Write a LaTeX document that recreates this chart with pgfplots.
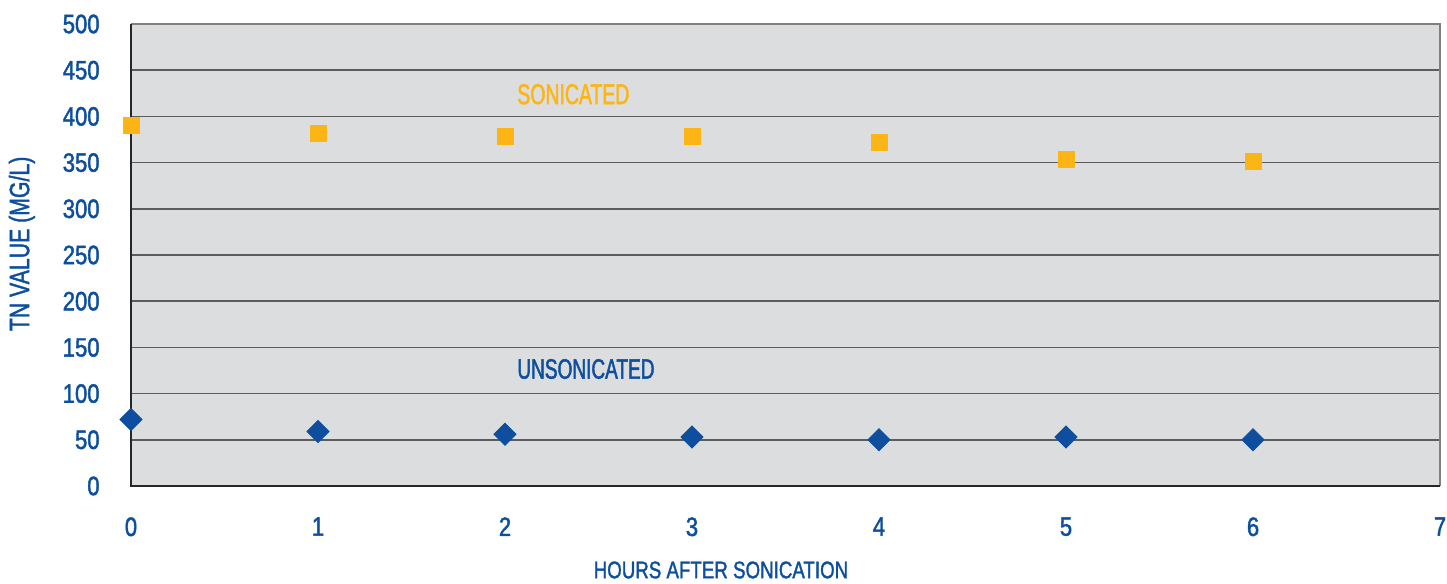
\documentclass[border=0pt]{standalone}
\usepackage{fontspec}
\setmainfont[FakeStretch=0.83,FakeBold=1.6]{Liberation Sans}
\newfontfamily\condA[FakeStretch=0.68,FakeBold=1.6]{Liberation Sans}
\newfontfamily\condX[FakeStretch=0.78,FakeBold=1.4]{Liberation Sans}
\newfontfamily\condY[FakeStretch=0.76,FakeBold=1.4]{Liberation Sans}
\usepackage{pgfplots}
\pgfplotsset{compat=1.18}
\definecolor{tnblue}{HTML}{0D4F9E}
\definecolor{tnorange}{HTML}{FDB515}
\definecolor{plotbg}{HTML}{DCDDDF}
\definecolor{gridc}{HTML}{5C5C5C}
\begin{document}
\begin{tikzpicture}
\useasboundingbox (-65.5pt,-49pt) rectangle (658pt,243pt);
\begin{axis}[
  scale only axis,
  width=654.5pt, height=231pt,
  xmin=0, xmax=7, ymin=0, ymax=500,
  xtick={0,1,2,3,4,5,6,7},
  ytick={0,50,100,150,200,250,300,350,400,450,500},
  major tick length=0pt,
  axis line style={draw=none},
  axis background/.style={fill=plotbg},
  ymajorgrids,
  major grid style={draw=gridc, line width=0.8pt},
  /pgf/number format/assume math mode=true,
  tick label style={font=\fontsize{13.3}{15}\selectfont, text=tnblue, inner sep=0pt},
  yticklabel style={anchor=east, xshift=-15.5pt},
  xticklabel style={anchor=north, yshift=-15.5pt},
  every axis x label/.style={at={(axis description cs:0.4507,-0.1818)}, anchor=center},
  every axis y label/.style={at={(axis description cs:-0.0833,0.524)}, rotate=90, anchor=center},
  xlabel={\condX\fontsize{12}{13}\selectfont\color{tnblue}HOURS AFTER SONICATION},
  ylabel={\condY\fontsize{14}{15}\selectfont\color{tnblue}TN VALUE (MG/L)},
  clip=false,
]
\addplot[only marks, mark=square*, mark size=4pt, color=tnorange] coordinates {
  (0,390) (1,382) (2,378) (3,378) (4,372) (5,353) (6,351)
};
\addplot[only marks, mark=square*, mark size=3.9pt, mark options={rotate=45}, color=tnblue] coordinates {
  (0,72) (1,59) (2,56) (3,53) (4,50) (5,53) (6,50)
};
\draw[draw=gray, line width=0.75pt] (rel axis cs:0,1) -- (rel axis cs:1,1) -- (rel axis cs:1,0);
\draw[draw=black!85, line width=0.75pt] (rel axis cs:0,1) -- (rel axis cs:0,0) -- (rel axis cs:1,0);
\node[anchor=west, inner sep=0pt, text=tnorange, font=\condA\fontsize{14.3}{16}\selectfont] at (axis cs:2.064,424) {SONICATED};
\node[anchor=west, inner sep=0pt, text=tnblue, font=\condA\fontsize{14}{16}\selectfont] at (axis cs:2.064,126.6) {UNSONICATED};
\end{axis}
\end{tikzpicture}
\end{document}
